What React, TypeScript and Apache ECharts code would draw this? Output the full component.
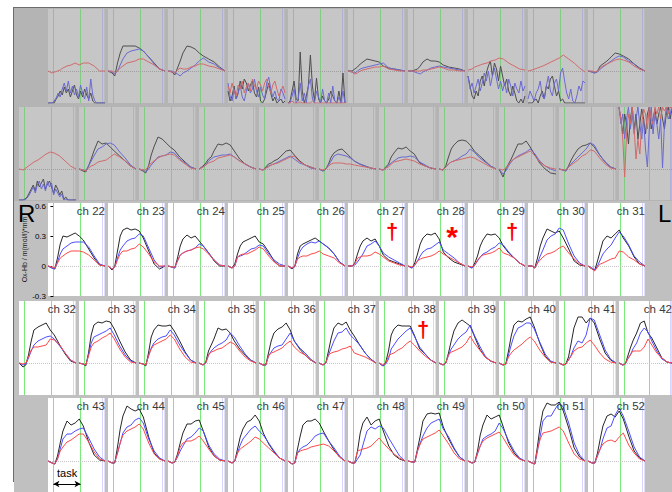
import React, { useEffect, useRef } from "react";
import * as echarts from "echarts";

// time axis (s); task block 0-20 s
const T = [-4, -1, 1, 3, 5, 7, 10, 13, 16, 19, 22, 26, 30, 34, 38];
const TN = [-4, -2.5, -1, 0.5, 2, 3.5, 5, 6.5, 8, 9.5, 11, 12.5, 14, 15.5, 17, 18.5, 20, 21.5, 23, 24.5, 26, 27.5, 29, 30.5, 32, 33.5, 35, 36.5, 38];
const TASK = [0, 20];
const MARKS = [36.3, 37.8];
const Y_TICKS = [-30, 0, 30, 60]; // hundredths of mmol/l*mm

// ---- top (gray) rows, values in 0.01 units ----
const top1Black = [
  [-32,-32,-32,-32,-28,-25,-20,-24,-16,-22,-18,-26,-20,-14,-24,-28,-20,-26,-18,-24,-28,-22,-30,-32,-32,-32,-32,-32,-32],
  [0,-2,-5,8,18,25,25,25,25,23,20,14,8,2,0],
  [0,-1,-4,3,10,18,25,24,22,18,15,12,9,4,0],
  [-20,-30,-25,-15,-28,-22,-10,-18,-8,-12,-20,-14,-10,-22,-26,-16,-30,-32,-28,-20,-12,-22,-30,-26,-32,-30,-28,-32,-30],
  [-32,-30,-20,-10,-28,-30,19,-20,-32,-25,-15,16,-15,-30,-7,-28,-32,-25,-30,-32,-28,-20,-25,-30,-32,-20,-32,-2,-32],
  [0,0,2,4,7,9,12,11,10,9,5,3,2,1,0],
  [0,0,1,2,5,9,12,10,10,9,6,4,3,2,0],
  [-5,-15,-25,-28,-20,-25,-10,-5,-15,-2,5,10,-5,8,2,-10,5,-5,-15,-8,-20,-25,-15,-22,-30,-32,-28,-32,-25],
  [-32,-32,-32,-30,-28,-32,-25,-20,-28,-15,-18,-8,-5,-15,-25,-20,-30,-28,-32,-32,-32,-32,-32,-32,-32,-32,-32,-32,-32],
  [0,-1,-2,0,5,7,10,14,18,17,15,12,7,3,0],
];
const top1Blue = [
  [-32,-32,-32,-30,-27,-22,-26,-18,-12,-20,-10,-22,-15,-24,-18,-26,-14,-22,-28,-16,-30,-8,-24,-30,-32,-32,-32,-32,-32],
  [0,-1,-3,0,6,12,18,20,21,22,20,14,7,2,0],
  [0,0,-2,-3,-5,-2,0,3,6,10,13,9,7,3,0],
  [-12,-25,-30,-18,-28,-22,-14,-26,-30,-20,-12,-22,-18,-8,-20,-26,-16,-24,-28,-12,-6,-18,-26,-20,-28,-30,-18,-22,-28],
  [-32,-32,-25,-18,-32,-28,-12,-30,-22,-32,-15,-8,-28,-32,-20,-26,-32,-18,-30,-32,-22,-32,-15,-30,-32,-26,-32,-20,-32],
  [0,-1,-2,0,2,3,4,5,6,7,8,3,2,1,0],
  [0,0,-1,-2,-3,-1,1,3,4,5,4,3,2,1,0],
  [-5,-18,-12,-22,-15,-8,-20,-12,-2,-10,0,-15,-5,3,-8,-18,-10,-20,-12,-22,-8,-15,-25,-12,-18,-22,-10,-20,-15],
  [-28,-20,-25,-30,-22,-18,-10,-25,-28,-15,-5,-20,-25,-12,-8,-20,-2,3,-10,-22,-28,-18,-30,-32,-25,-15,-20,-10,-12],
  [0,-1,-2,-1,2,4,7,10,13,15,14,10,7,2,0],
];
const top1Red = [
  [0,-2,-1,0,1,3,5,6,8,6,8,8,5,0,0],
  [0,0,-2,0,3,5,8,9,10,12,12,9,6,2,0],
  [0,-1,-2,1,3,2,2,4,5,7,7,5,4,2,0],
  [-15,-22,-12,-20,-25,-14,-18,-10,-22,-16,-12,-20,-8,-15,-18,-10,-14,-20,-12,-8,-16,-22,-14,-10,-18,-25,-20,-15,-22],
  [-32,-32,-30,-32,-32,-32,-31,-32,-32,-32,-32,-32,-30,-32,-32,-32,-32,-32,-32,-32,-32,-32,-32,-32,-32,-32,-32,-32,-32],
  [0,-1,-3,-2,0,1,2,3,4,4,5,2,1,0,0],
  [0,0,0,0,0,1,1,2,3,4,3,1,1,0,0],
  [1,2,4,5,6,7,8,10,11,13,12,8,5,2,1],
  [0,1,2,3,4,5,7,9,11,13,16,12,8,3,-1],
  [0,0,-1,0,3,5,7,9,11,12,11,9,5,2,0],
];

const top2Black = [
  [-31,-31,-31,-30,-28,-24,-20,-16,-22,-12,-18,-14,-10,-20,-15,-12,-18,-24,-16,-20,-26,-22,-30,-28,-31,-31,-31,-31,-31],
  [0,-2,-3,3,10,18,28,25,26,22,18,13,8,3,0],
  [0,-2,-4,3,14,22,32,30,26,22,19,12,7,2,0],
  [0,3,6,10,12,18,25,24,26,24,18,10,5,2,0],
  [0,-1,2,5,6,8,10,14,18,19,14,8,4,2,0],
  [0,-2,0,5,12,16,19,20,16,12,8,5,3,1,0],
  [0,-1,2,5,12,16,21,20,22,18,15,6,3,1,0],
  [0,-1,3,12,20,24,28,29,28,24,18,13,8,3,0],
  [0,-8,0,5,10,16,25,25,28,22,15,6,0,-4,-5],
  [0,-1,-2,3,9,14,20,23,24,26,22,14,7,2,0],
  [62,50,35,55,45,25,50,62,40,55,30,45,60,50,35,55,62,40,50,60,45,55,62,50,40,55,62,50,60],
];
const top2Blue = [
  [-31,-31,-31,-31,-29,-26,-22,-18,-24,-16,-12,-20,-15,-22,-12,-18,-14,-26,-20,-24,-28,-25,-31,-30,-31,-31,-31,-31,-31],
  [0,-1,-2,3,8,13,20,22,25,26,24,17,11,4,0],
  [0,-1,-3,0,4,7,12,13,14,17,16,10,6,2,0],
  [0,2,4,8,10,12,13,14,14,15,12,8,5,2,0],
  [0,-1,1,3,4,5,7,9,11,13,10,6,4,1,0],
  [0,-2,0,4,8,13,15,14,13,11,8,5,3,1,0],
  [0,-1,1,4,6,8,11,12,12,13,12,7,4,1,0],
  [0,-1,2,5,7,8,10,13,15,20,17,11,7,3,0],
  [0,-5,-2,3,7,10,13,15,17,20,16,8,3,0,-2],
  [0,-1,-2,2,5,8,12,16,20,26,24,14,7,2,0],
  [62,45,55,30,50,62,40,55,35,50,62,45,30,50,20,2,40,62,35,55,45,30,50,1,45,62,50,55,62],
];
const top2Red = [
  [0,-1,1,3,5,7,9,12,15,17,16,13,8,3,0],
  [0,-1,-2,1,3,4,7,8,9,12,15,12,8,3,0],
  [0,-1,-1,3,6,8,11,13,14,15,14,9,5,1,0],
  [0,2,4,6,7,8,11,12,13,14,12,8,5,2,0],
  [0,-1,1,2,4,5,6,8,10,12,13,7,4,2,0],
  [0,-1,0,3,5,6,6,6,5,5,4,3,2,1,0],
  [0,-1,1,2,5,7,8,9,10,9,8,5,3,1,0],
  [0,-1,2,5,7,8,9,10,11,12,11,8,5,2,0],
  [0,-1,1,4,8,10,12,14,16,18,14,7,3,1,0],
  [0,-1,-1,2,4,6,9,13,15,19,18,11,5,1,0],
  [62,50,30,-8,35,55,45,62,40,10,30,15,45,60,55,40,62,50,45,62,55,62,50,62,58,62,55,62,60],
];

// ---- main rows ----
const rowALabels = ["ch 22","ch 23","ch 24","ch 25","ch 26","ch 27","ch 28","ch 29","ch 30","ch 31"];
const rowABlack = [
  [0,-2,-3,8,22,30,29,31,33,30,26,17,8,1,0],
  [0,-4,0,15,30,36,38,36,37,35,28,15,2,-3,0],
  [0,-1,-2,8,20,27,31,28,30,25,20,13,5,0,0],
  [0,-2,2,12,20,24,26,28,30,24,22,14,5,0,0],
  [0,-3,0,12,20,22,24,26,28,25,22,18,12,4,0],
  [0,0,3,12,20,25,28,25,27,20,11,6,4,2,0],
  [0,-2,3,12,22,28,32,31,33,27,14,8,4,2,0],
  [0,-2,3,10,20,26,32,31,32,28,20,13,8,3,0],
  [0,0,-2,8,20,28,37,35,33,35,28,17,5,1,0],
  [0,-3,-4,5,15,25,30,28,32,36,28,20,9,2,0],
];
const rowABlue = [
  [0,-2,-3,4,12,17,20,23,24,24,24,19,10,2,0],
  [0,-3,-1,8,16,20,25,27,28,32,30,18,6,-1,0],
  [0,-1,-2,5,11,13,15,16,18,22,20,13,6,1,0],
  [0,-2,0,9,10,11,14,17,18,21,20,12,6,2,0],
  [0,-2,-1,8,15,19,22,24,23,25,22,18,12,4,0],
  [0,0,1,4,8,12,20,22,25,20,13,9,6,3,0],
  [0,-2,1,5,10,14,17,18,21,24,16,12,8,3,0],
  [0,-2,1,5,9,12,14,17,19,23,21,14,8,3,0],
  [0,0,-2,3,10,16,26,30,32,38,36,22,10,3,0],
  [0,-2,-4,0,6,12,17,21,28,34,30,21,10,4,0],
];
const rowARed = [
  [0,-1,-2,3,8,10,13,15,15,15,14,11,6,1,0],
  [0,-3,-1,6,12,15,15,17,18,22,19,12,4,0,0],
  [0,-1,-1,5,11,13,15,16,18,19,17,12,6,1,0],
  [0,-2,0,9,11,12,12,14,16,19,17,10,4,0,0],
  [0,-2,0,7,9,10,10,12,13,15,12,10,8,3,0],
  [0,0,2,8,9,10,10,11,14,12,9,5,3,1,0],
  [0,-1,1,5,7,8,9,10,12,15,12,9,6,3,0],
  [0,-1,1,6,9,11,12,13,15,18,13,11,8,3,0],
  [0,0,-2,3,6,9,12,13,15,18,20,13,7,2,0],
  [0,-3,-5,-1,2,3,5,7,8,15,14,9,6,2,0],
];

const rowBLabels = ["ch 32","ch 33","ch 34","ch 35","ch 36","ch 37","ch 38","ch 39","ch 40","ch 41","ch 42"];
const rowBBlack = [
  [0,-4,-2,8,22,33,36,38,40,33,28,18,9,2,0],
  [0,-1,-3,10,28,38,41,40,42,41,34,22,11,3,0],
  [0,-1,-3,10,26,33,38,37,37,38,32,22,11,3,0],
  [0,-2,1,12,18,24,35,33,34,30,22,14,8,3,0],
  [0,-2,-2,10,22,30,34,36,40,33,22,14,8,3,0],
  [0,-2,0,12,25,35,40,38,41,33,27,18,10,4,0],
  [0,-3,1,12,28,34,38,37,37,37,28,14,9,3,0],
  [0,-2,0,10,22,32,40,43,40,37,27,14,6,2,0],
  [0,-2,-1,12,27,38,42,41,44,46,36,20,7,1,0],
  [0,-2,-1,6,20,35,46,46,40,45,40,24,10,3,0],
  [0,-2,-1,7,15,22,30,40,42,30,25,15,5,1,0],
];
const rowBBlue = [
  [0,-2,-1,5,12,18,22,24,26,27,24,17,10,3,0],
  [0,-1,-2,8,20,26,28,30,32,35,28,17,8,2,0],
  [0,-1,-2,7,15,20,24,26,27,33,28,18,10,3,0],
  [0,-2,0,8,12,15,18,20,23,30,26,17,9,3,0],
  [0,-2,-2,7,11,15,17,18,24,30,22,15,10,4,0],
  [0,-2,0,8,15,22,30,31,35,28,24,18,10,4,0],
  [0,-3,-1,4,14,18,24,28,32,35,27,16,9,3,0],
  [0,-2,0,8,14,18,24,28,31,38,28,17,7,2,0],
  [0,-2,-1,8,18,27,35,37,40,40,34,21,9,2,0],
  [0,-2,-1,3,8,15,22,20,28,45,43,28,13,4,0],
  [0,-2,-1,4,8,14,20,30,35,31,22,12,4,1,0],
];
const rowBRed = [
  [0,-1,0,6,13,16,16,17,18,24,23,18,10,3,0],
  [0,-1,-2,7,16,20,22,25,27,30,24,14,6,1,0],
  [0,-1,-2,7,14,18,20,22,24,28,24,14,6,1,0],
  [0,-2,0,8,11,12,14,15,18,21,19,12,6,2,0],
  [0,-2,-2,7,10,11,13,15,19,22,16,11,8,3,0],
  [0,-2,0,8,10,11,12,14,15,17,10,8,6,3,0],
  [0,-2,0,7,9,10,13,15,19,22,18,12,7,3,0],
  [0,-2,0,8,11,12,14,16,20,27,20,13,6,2,0],
  [0,-2,-1,6,10,13,16,19,23,26,22,13,6,1,0],
  [0,-2,-1,3,7,12,15,16,20,23,18,10,4,1,0],
  [0,-2,-1,5,8,12,12,12,16,24,18,10,5,1,0],
];

const rowCLabels = ["ch 43","ch 44","ch 45","ch 46","ch 47","ch 48","ch 49","ch 50","ch 51","ch 52"];
const rowCBlack = [
  [0,-2,-3,5,18,30,40,36,38,42,35,19,6,1,0],
  [0,-2,-2,14,32,45,55,52,50,52,44,24,8,2,0],
  [0,-2,-1,7,18,28,37,37,40,41,30,14,5,1,0],
  [0,-2,0,12,24,32,39,41,46,40,28,17,9,3,0],
  [0,-3,-2,12,25,36,40,40,42,38,30,20,11,4,0],
  [0,-2,-2,10,28,38,44,36,40,42,30,15,6,2,0],
  [0,-1,-1,12,25,40,47,48,47,48,34,22,12,4,0],
  [0,-2,-1,10,26,36,46,42,44,46,34,18,8,2,0],
  [0,-2,-3,15,35,50,58,56,56,59,50,33,13,4,0],
  [0,-2,-2,8,22,35,45,47,44,50,42,25,10,3,0],
];
const rowCBlue = [
  [0,-2,-3,2,12,22,27,27,30,32,33,23,12,4,0],
  [0,-2,-1,8,18,28,34,36,41,43,38,22,10,3,0],
  [0,-2,-1,4,10,15,22,24,28,33,30,16,7,2,0],
  [0,-2,0,8,16,22,27,32,35,30,26,18,10,3,0],
  [0,-3,-2,8,12,14,16,20,25,27,28,20,13,5,0],
  [0,-2,-2,2,6,16,30,34,32,35,33,23,14,5,0],
  [0,-1,-1,10,18,25,33,38,40,42,32,24,13,4,0],
  [0,-2,-1,7,15,22,25,27,30,38,32,20,10,3,0],
  [0,-2,-3,10,25,40,45,45,52,58,54,38,18,6,0],
  [0,-2,-2,5,12,22,33,35,46,53,45,30,14,4,0],
];
const rowCRed = [
  [0,-2,-3,2,10,14,19,21,24,27,27,19,9,2,0],
  [0,-2,-1,8,18,26,30,32,34,37,32,18,7,2,0],
  [0,-2,-1,5,14,18,20,20,22,25,20,12,5,1,0],
  [0,-2,0,8,12,14,17,20,24,22,18,13,8,3,0],
  [0,-3,-2,8,10,11,12,14,15,16,17,15,10,4,0],
  [0,-2,-2,10,11,12,13,15,19,23,18,12,7,3,0],
  [0,-1,-1,10,17,22,24,26,28,31,25,17,8,2,0],
  [0,-2,-1,8,15,20,23,25,27,29,23,14,6,2,0],
  [0,-2,-3,12,22,28,29,30,32,34,30,18,7,2,0],
  [0,-2,-2,6,12,17,20,21,19,24,28,16,8,2,0],
];

// significance marks: [row, panel index, symbol]
const MARK_SYMBOLS: [string, number, string][] = [["A", 5, "†"], ["A", 6, "*"], ["A", 7, "†"], ["B", 6, "†"]];
const TASK_LABEL = "task";
const Y_NAME = "Ox-Hb / m(mol/l)*mm";

const FONT = '"Liberation Sans", Arial, Helvetica, sans-serif';

export default function App() {
  const ref = useRef<HTMLDivElement>(null);
  useEffect(() => {
    if (!ref.current) return;
    const chart = echarts.init(ref.current, undefined, { renderer: "svg" });
    const W = 57;
    const STEP = 60;
    const rows: any[] = [
      { id: "1", x0: 48, top: 9, h: 94, min: -32, max: 62, dark: true, k: top1Black, b: top1Blue, r: top1Red },
      { id: "2", x0: 19, top: 107, h: 93, min: -31, max: 62, dark: true, k: top2Black, b: top2Blue, r: top2Red },
      { id: "A", x0: 48, top: 203, h: 93, min: -30, max: 63, dark: false, k: rowABlack, b: rowABlue, r: rowARed, labels: rowALabels, ly: 205 },
      { id: "B", x0: 19, top: 301, h: 94, min: -32, max: 62, dark: false, k: rowBBlack, b: rowBBlue, r: rowBRed, labels: rowBLabels, ly: 303 },
      { id: "C", x0: 48, top: 398, h: 94, min: -31, max: 63, dark: false, k: rowCBlack, b: rowCBlue, r: rowCRed, labels: rowCLabels, ly: 400 },
    ];
    const grid: any[] = [];
    const xAxis: any[] = [];
    const yAxis: any[] = [];
    const series: any[] = [];
    const graphic: any[] = [
      { type: "rect", z: -100, shape: { x: 14, y: 8, width: 658, height: 194 }, style: { fill: "#b4b4b4" } },
      { type: "rect", z: -100, shape: { x: 14, y: 201, width: 658, height: 291 }, style: { fill: "#c0c0c0" } },
      { type: "line", z: 50, shape: { x1: 13, y1: 7.5, x2: 672, y2: 7.5 }, style: { stroke: "#6c6c6c", lineWidth: 1 } },
      { type: "line", z: 50, shape: { x1: 13.5, y1: 7, x2: 13.5, y2: 482 }, style: { stroke: "#6c6c6c", lineWidth: 1 } },
    ];
    const pts = (vals: number[]) => {
      const t = vals.length === T.length ? T : TN;
      return vals.map((v, i) => [t[i], v]);
    };
    let g = 0;
    rows.forEach((row) => {
      const dark = row.dark;
      const green = dark ? "#80cc80" : "#7aea7a";
      const purple = dark ? ["#b0b0d2", "#bababa"] : ["#d6d6ff", "#e0e0f4"];
      const base = dark ? "#9e9e9e" : "#c4c4c4";
      const cols = dark ? ["#4e4e4e", "#6a6ad2", "#d26a6a"] : ["#262626", "#4d4dff", "#ff4848"];
      row.k.forEach((_: any, j: number) => {
        const left = row.x0 + STEP * j;
        grid.push({ left, top: row.top, width: W, height: row.h, show: true, backgroundColor: dark ? "#c6c6c6" : "#ffffff", borderWidth: 0 });
        xAxis.push({ gridIndex: g, type: "value", min: -4, max: 38, show: false });
        const isAxis = row.id === "A" && j === 0;
        if (isAxis) {
          yAxis.push({
            gridIndex: g, type: "value", min: row.min, max: row.max, show: true, position: "left",
            axisLine: { show: false },
            axisTick: { show: true, length: 3, customValues: Y_TICKS, lineStyle: { color: "#000" } },
            axisLabel: { show: true, fontSize: 8, color: "#000", margin: 2, customValues: Y_TICKS, fontFamily: FONT,
              formatter: (v: number) => (v === 0 ? "0" : String(v / 100)) },
            splitLine: { show: false },
            name: Y_NAME, nameLocation: "middle", nameRotate: 90, nameGap: 14,
            nameTextStyle: { fontSize: 7, color: "#111", fontFamily: FONT },
          });
        } else {
          yAxis.push({ gridIndex: g, type: "value", min: row.min, max: row.max, show: false });
        }
        const mlData: any[] = [
          ...TASK.map((x) => ({ xAxis: x, lineStyle: { color: green, width: 1, type: "solid" } })),
          ...MARKS.map((x, mi) => ({ xAxis: x, lineStyle: { color: purple[mi], width: 1, type: "solid" } })),
          { yAxis: 0, lineStyle: { color: base, width: 1, type: "dotted" } },
        ];
        if (row.id === "C" && j === 0) {
          mlData.push([
            { coord: [TASK[0], -23], symbol: "arrow", symbolSize: [5, 6], lineStyle: { color: "#000", width: 1, type: "solid" } },
            { coord: [TASK[1], -23], symbol: "arrow", symbolSize: [5, 6], lineStyle: { color: "#000", width: 1, type: "solid" } },
          ]);
        }
        [row.k[j], row.b[j], row.r[j]].forEach((vals: number[], ci: number) => {
          const s: any = {
            type: "line", xAxisIndex: g, yAxisIndex: g, data: pts(vals), showSymbol: false, symbol: "none",
            lineStyle: { color: cols[ci], width: 1 }, itemStyle: { color: cols[ci] }, silent: true,
            emphasis: { disabled: true }, z: 3 + ci,
          };
          if (ci === 0) {
            s.markLine = { silent: true, symbol: ["none", "none"], label: { show: false }, animation: false, data: mlData, z: 1 };
          }
          series.push(s);
        });
        if (row.labels) {
          graphic.push({
            type: "text", z: 100, x: Math.min(left + W, 672), y: row.ly,
            style: { text: row.labels[j], fill: "#3a3a3a", font: `11.5px ${FONT}`, textAlign: "right", textVerticalAlign: "top" },
          });
        }
        MARK_SYMBOLS.forEach(([rid, idx, sym]) => {
          if (rid === row.id && idx === j) {
            const cx = left + 44;
            const isStar = sym === "*";
            graphic.push({
              type: "text", z: 100, x: cx, y: row.top + (isStar ? 33 : 28),
              style: { text: sym, fill: "#ff0000", font: `bold ${isStar ? 30 : 22}px ${FONT}`, textAlign: "center", textVerticalAlign: "middle" },
            });
          }
        });
        g++;
      });
    });
    graphic.push(
      { type: "text", z: 100, x: 18, y: 201, style: { text: "R", fill: "#000", font: `24px ${FONT}`, textAlign: "left", textVerticalAlign: "top" } },
      { type: "text", z: 100, x: 658, y: 201, style: { text: "L", fill: "#000", font: `24px ${FONT}`, textAlign: "left", textVerticalAlign: "top" } },
      { type: "text", z: 100, x: 57, y: 467, style: { text: TASK_LABEL, fill: "#000", font: `11px ${FONT}`, textAlign: "left", textVerticalAlign: "top" } },
    );
    chart.setOption({ animation: false, textStyle: { fontFamily: FONT }, grid, xAxis, yAxis, series, graphic });
    return () => chart.dispose();
  }, []);
  return <div ref={ref} style={{ position: "absolute", left: 0, top: 0, width: 672, height: 492, background: "#ffffff" }} />;
}
